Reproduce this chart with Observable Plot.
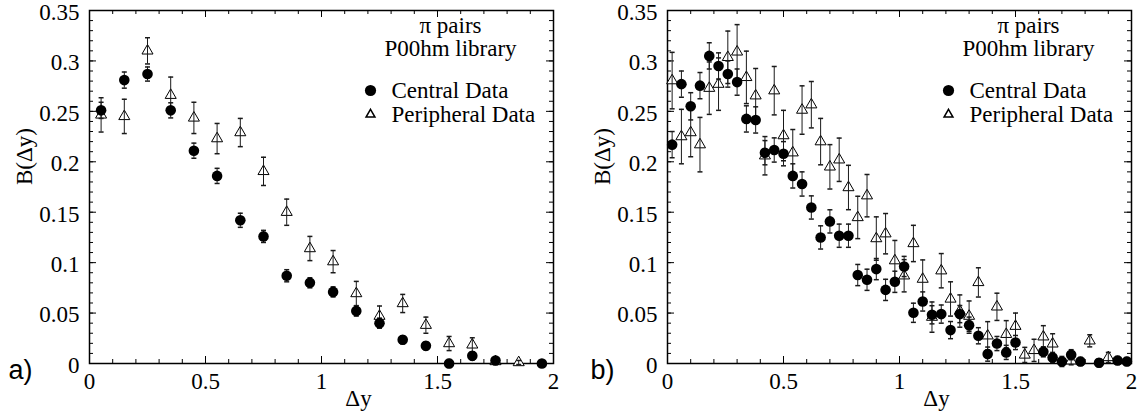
<!DOCTYPE html>
<html><head><meta charset="utf-8">
<script src="https://cdn.jsdelivr.net/npm/d3@7"></script>
<script src="https://cdn.jsdelivr.net/npm/@observablehq/plot@0.6"></script>
<style>
html,body{margin:0;padding:0;background:#fff;overflow:hidden;}
#wrap{position:relative;width:1147px;height:417px;}
#wrap svg{position:absolute;top:0;}
</style></head><body><div id="wrap"></div>
<script>
// ---------- data ----------
// panel a)
const xA = [0.05,0.15,0.25,0.35,0.45,0.55,0.65,0.75,0.85,0.95,1.05,1.15,1.25,1.35,1.45,1.55,1.65,1.75,1.85,1.95];
const centralA = [0.251,0.281,0.287,0.251,0.211,0.186,0.142,0.126,0.087,0.080,0.071,0.052,0.040,0.0235,0.0175,0.000,0.0076,0.003,null,0.000];
const centralErrA = [0.008,0.008,0.007,0.0075,0.0075,0.0075,0.007,0.006,0.006,0.005,0.005,0.005,0.005,0.004,0.004,0.004,0.004,0.003,null,0.003];
const periphA = [0.2465,0.245,0.310,0.266,0.2435,0.223,0.229,0.1905,0.150,0.114,0.101,0.0694,0.047,0.0595,0.038,0.0198,0.0185,0.002,0.001,null];
const periphErrA = [0.017,0.017,0.013,0.018,0.0155,0.015,0.014,0.014,0.013,0.012,0.011,0.012,0.010,0.009,0.008,0.007,0.007,0.003,0.002,null];

// panel b)
const xB = [0.02,0.06,0.10,0.14,0.18,0.22,0.26,0.30,0.34,0.38,0.42,0.46,0.50,0.54,0.58,0.62,0.66,0.70,0.74,0.78,
            0.82,0.86,0.90,0.94,0.98,1.02,1.06,1.10,1.14,1.18,1.22,1.26,1.30,1.34,1.38,1.42,1.46,1.50,1.54,1.58,
            1.62,1.66,1.70,1.74,1.78,1.82,1.86,1.90,1.94,1.98];
const centralB = [0.217,0.277,0.255,0.2755,0.305,0.295,0.287,0.279,0.2425,0.2415,
                  0.209,0.2117,0.208,0.186,0.178,0.1547,0.125,0.1409,0.1267,0.1267,
                  0.0877,0.083,0.0936,0.073,0.081,0.0962,0.0503,0.0615,0.0483,0.049,
                  0.0331,0.049,0.038,0.0275,0.0093,0.0198,0.011,0.0208,null,null,
                  0.0116,0.006,0.002,0.0087,0.002,null,0.0007,null,0.003,0.002];
const centralErrB = [0.013,0.013,0.0135,0.013,0.013,0.013,0.013,0.013,0.013,0.013,
                     0.012,0.012,0.012,0.012,0.012,0.0115,0.0115,0.0115,0.0115,0.0115,
                     0.0105,0.0105,0.0105,0.0105,0.0105,0.0100,0.0095,0.0095,0.009,0.009,
                     0.0085,0.0085,0.008,0.008,0.007,0.007,0.007,0.007,null,null,
                     0.005,0.005,0.005,0.005,0.004,null,0.004,null,0.004,0.004];
const periphB = [0.2805,0.225,0.229,0.217,0.273,0.277,0.3036,0.309,0.2837,0.2655,
                 0.206,0.2705,0.226,0.209,0.2513,0.2566,0.220,0.195,0.202,0.1745,
                 0.1448,0.1664,0.1239,0.1287,0.102,0.087,0.119,0.0837,0.046,0.092,
                 0.064,0.052,0.047,0.0804,0.0275,0.0562,0.029,0.037,0.0085,0.013,
                 0.0265,0.0195,null,0.0027,null,0.0225,null,0.006,null,null];
const periphErrB = [0.028,0.027,0.024,0.027,0.026,0.026,0.026,0.027,0.026,0.027,
                    0.019,0.024,0.025,0.023,0.024,0.023,0.023,0.022,0.0215,0.022,
                    0.021,0.021,0.0215,0.020,0.020,0.016,0.018,0.019,0.015,0.017,
                    0.017,0.016,0.015,0.0145,0.014,0.0135,0.0135,0.013,0.0075,0.011,
                    0.011,0.010,null,0.004,null,0.006,null,0.005,null,null];

// ticks and labels
const xMajor = [0,0.5,1,1.5,2];
const xTickLabels = ["0","0.5","1","1.5","2"];
const xMinor = [0,0.1,0.2,0.3,0.4,0.5,0.6,0.7,0.8,0.9,1,1.1,1.2,1.3,1.4,1.5,1.6,1.7,1.8,1.9,2];
const yMajor = [0,0.05,0.1,0.15,0.2,0.25,0.3,0.35];
const yTickLabels = ["0","0.05","0.1","0.15","0.2","0.25","0.3","0.35"];
const yMinor = d3.range(0,36).map(i => i/100);

const legendTitle = ["\u03c0 pairs","P00hm library"];
const seriesNames = ["Central Data","Peripheral Data"];
const xTitle = "\u0394y";
const yTitle = "B(\u0394y)";

// ---------- drawing ----------
const serif = "'Liberation Serif', Tinos, 'Times New Roman', Times, 'DejaVu Serif', serif";
const sans = "'Liberation Sans', Arimo, Arial, Helvetica, sans-serif";
const capSymbol = {draw(ctx, size){ const w = Math.sqrt(size/Math.PI); ctx.moveTo(-w,0); ctx.lineTo(w,0); }};

function rows(xs, ys, es){
  return xs.map((x,i)=>({x, y: ys[i], e: es[i]})).filter(d => d.y != null);
}

function panel({width, marginLeft, marginRight, xs, cy, ce, py, pe, tag}){
  const H = 417, mt = 10, mb = 54;
  const innerH = H - mt - mb, innerW = width - marginLeft - marginRight;
  const cen = rows(xs, cy, ce), per = rows(xs, py, pe);
  const barStroke = "#1a1a1a";
  const T = {fontFamily: serif, fontSize: 23};
  return Plot.plot({
    width, height: H, marginTop: mt, marginBottom: mb, marginLeft, marginRight,
    style: {fontFamily: serif, fontSize: "23px", background: "white", color: "black"},
    x: {domain: [0,2]},
    y: {domain: [0,0.35]},
    marks: [
      // inward ticks on all four sides
      Plot.ruleX(xMinor, {insetTop: innerH - 4, strokeWidth: 1}),
      Plot.ruleX(xMajor, {insetTop: innerH - 7, strokeWidth: 1}),
      Plot.ruleX(xMinor, {insetBottom: innerH - 4, strokeWidth: 1}),
      Plot.ruleX(xMajor, {insetBottom: innerH - 7, strokeWidth: 1}),
      Plot.ruleY(yMinor, {insetRight: innerW - 4, strokeWidth: 1}),
      Plot.ruleY(yMajor, {insetRight: innerW - 7, strokeWidth: 1}),
      Plot.ruleY(yMinor, {insetLeft: innerW - 4, strokeWidth: 1}),
      Plot.ruleY(yMajor, {insetLeft: innerW - 7, strokeWidth: 1}),
      Plot.axisX({ticks: xMajor, tickSize: 0, tickPadding: 9, label: null, ...T,
                  tickFormat: d => xTickLabels[xMajor.indexOf(d)]}),
      Plot.axisY({ticks: yMajor, tickSize: 0, tickPadding: 10, label: null, dy: 2, ...T,
                  tickFormat: d => yTickLabels[yMajor.indexOf(d)]}),
      Plot.frame({strokeWidth: 1.5}),
      // peripheral: triangles + error bars
      Plot.dot(per, {x: "x", y: "y", symbol: "triangle", r: 4.1, stroke: "black", fill: "white", strokeWidth: 1}),
      Plot.ruleX(per, {x: "x", y1: d => d.y - d.e, y2: d => d.y + d.e, stroke: barStroke, strokeWidth: 1}),
      Plot.dot(per, {x: "x", y: d => d.y + d.e, symbol: capSymbol, r: 2.5, stroke: barStroke, fill: "none"}),
      Plot.dot(per, {x: "x", y: d => d.y - d.e, symbol: capSymbol, r: 2.5, stroke: barStroke, fill: "none"}),
      // central: error bars + filled circles
      Plot.ruleX(cen, {x: "x", y1: d => d.y - d.e, y2: d => d.y + d.e, stroke: barStroke, strokeWidth: 1}),
      Plot.dot(cen, {x: "x", y: d => d.y + d.e, symbol: capSymbol, r: 2.5, stroke: barStroke, fill: "none"}),
      Plot.dot(cen, {x: "x", y: d => d.y - d.e, symbol: capSymbol, r: 2.5, stroke: barStroke, fill: "none"}),
      Plot.dot(cen, {x: "x", y: "y", r: 5.3, fill: "black", stroke: "none"}),
      // legend / annotation
      Plot.text([legendTitle[0]], {text: d => d, frameAnchor: "top-left", dx: 361, dy: 22, lineAnchor: "bottom", textAnchor: "middle", ...T}),
      Plot.text([legendTitle[1]], {text: d => d, frameAnchor: "top-left", dx: 361, dy: 45, lineAnchor: "bottom", textAnchor: "middle", ...T}),
      Plot.dot([seriesNames[0]], {frameAnchor: "top-left", dx: 281, dy: 80, r: 5.6, fill: "black"}),
      Plot.dot([seriesNames[1]], {frameAnchor: "top-left", dx: 281, dy: 104, r: 3.3, symbol: "triangle", stroke: "black", fill: "white"}),
      Plot.text([seriesNames[0]], {text: d => d, frameAnchor: "top-left", dx: 302, dy: 87, lineAnchor: "bottom", textAnchor: "start", ...T}),
      Plot.text([seriesNames[1]], {text: d => d, frameAnchor: "top-left", dx: 302, dy: 111, lineAnchor: "bottom", textAnchor: "start", ...T}),
      // axis titles
      Plot.text([xTitle], {text: d => d, frameAnchor: "bottom", dx: 37, dy: 42.5, lineAnchor: "bottom", ...T}),
      Plot.text([yTitle], {text: d => d, frameAnchor: "left", dx: -57.5, dy: -2, rotate: -90, lineAnchor: "bottom", ...T}),
      // panel tag
      Plot.text([tag], {text: d => d, frameAnchor: "bottom-left", dx: tag === "a)" ? -81 : -77, dy: 7,
                        textAnchor: "start", lineAnchor: "middle",
                        fontFamily: sans, fontSize: 27})
    ]
  });
}

const wrap = document.getElementById("wrap");
const left = panel({width: 573, marginLeft: 89, marginRight: 20, xs: xA, cy: centralA, ce: centralErrA, py: periphA, pe: periphErrA, tag: "a)"});
left.style.left = "0px";
const right = panel({width: 574, marginLeft: 94, marginRight: 16, xs: xB, cy: centralB, ce: centralErrB, py: periphB, pe: periphErrB, tag: "b)"});
right.style.left = "573px";
wrap.appendChild(left);
wrap.appendChild(right);
</script>
</body></html>
